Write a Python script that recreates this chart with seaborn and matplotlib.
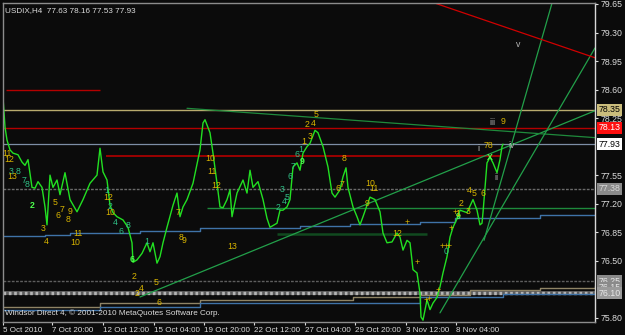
import matplotlib
matplotlib.use("Agg")
import matplotlib.pyplot as plt
import pandas as pd
import seaborn as sns

# ---------------- data ----------------
bars = [0, 1, 2, 3.5, 5, 7.5, 9.5, 11, 12.5, 14.5,
        16, 17.5, 19.5, 21, 22, 23.5, 25, 27, 28.5, 31,
        33.5, 37, 40, 43.5, 47, 48.5, 50, 52, 53.5, 55,
        57, 60, 62.5, 64.5, 65, 67, 69.5, 72, 73.5, 75,
        77, 78.5, 80, 82, 85, 87, 88.5, 90, 92, 95,
        98.5, 100, 101, 103.5, 105, 107, 108.5, 110, 112, 113.5,
        114.5, 117, 120, 122, 123.5, 125, 127.5, 130, 132, 133.5,
        137, 138.5, 140, 142, 143.5, 145, 147, 148.5, 150, 152,
        153.5, 156, 157.5, 160, 162.5, 164.5, 166, 168.5, 170, 171.5,
        172.5, 175, 177, 178.5, 180, 182, 183.5, 186, 188.5, 190,
        192, 194.5, 197, 198.5, 200, 202, 203.5, 205, 207, 208.5,
        209, 210, 212, 213.5, 215, 217, 218.5, 220, 222, 223.5,
        225, 227.5, 228.5, 232, 235, 237, 238.5, 239.5, 240, 242,
        243.5, 245, 247, 248.5, 249.5, 250]
prices = [78.51, 78.14, 77.98, 77.86, 77.82, 77.80, 77.71, 77.67, 77.74, 77.40,
          77.39, 77.47, 77.40, 77.16, 76.94, 77.55, 77.40, 77.49, 77.31, 77.58,
          77.25, 77.10, 77.25, 77.45, 77.55, 77.88, 77.59, 77.49, 77.18, 77.09,
          77.04, 77.00, 76.91, 76.72, 76.48, 76.51, 76.59, 76.72, 76.61, 76.72,
          76.47, 76.55, 76.72, 76.91, 77.18, 77.33, 77.04, 77.16, 77.25, 77.45,
          77.86, 78.19, 78.23, 78.07, 77.82, 77.45, 77.16, 77.15, 77.25, 77.37,
          77.04, 77.33, 77.49, 77.33, 77.61, 77.40, 77.47, 77.25, 77.02, 76.91,
          76.96, 77.12, 77.12, 77.16, 77.25, 77.65, 77.70, 77.61, 77.82, 77.90,
          77.94, 78.10, 78.07, 77.90, 77.65, 77.33, 77.28, 77.37, 77.53, 77.64,
          77.40, 77.16, 77.04, 76.94, 77.04, 77.18, 77.28, 77.25, 77.10, 76.84,
          76.72, 76.73, 76.84, 76.79, 76.63, 76.75, 76.72, 76.39, 76.35, 76.10,
          75.81, 75.77, 76.02, 75.90, 75.98, 76.05, 76.18, 76.35, 76.55, 76.79,
          76.91, 77.04, 77.12, 77.09, 77.25, 77.12, 76.94, 76.96, 77.09, 77.70,
          77.77, 77.70, 77.58, 77.74, 77.90, 77.93]

date_tick_bars = [0, 24.5, 50, 75.5, 100.5, 125.5, 151, 176, 201.5, 226.5]
date_tick_labels = ["5 Oct 2010", "7 Oct 20:00", "12 Oct 12:00", "15 Oct 04:00",
                    "19 Oct 20:00", "22 Oct 12:00", "27 Oct 04:00", "29 Oct 20:00",
                    "3 Nov 12:00", "8 Nov 04:00"]
price_ticks = [79.65, 79.30, 78.95, 78.60, 78.25, 77.55, 77.20, 76.85, 76.50, 75.80]

# full-width horizontal levels
khaki_level = 78.35
red_level = 78.13
bid_level = 77.93
gray_level = 77.38
gray_level2 = 76.25
band_level = 76.10

# partial horizontal segments (start bar, end bar, price)
red_seg_top = (1.5, 48.5, 78.59)
red_seg_mid = (51.5, 248.5, 77.785)
green_seg = (102, 296, 77.15)
dkgreen_seg = (137, 212, 76.83)

# stepped indicator lines
blue_bars = [0, 21, 33.5, 68.5, 98.5, 148.5, 173.5, 208.5, 226, 268.5, 296]
blue_prices = [76.80, 76.82, 76.84, 76.86, 76.90, 76.93, 76.95, 76.97, 77.02, 77.06, 77.06]
tan_bars = [0, 48.5, 98.5, 175, 208.5, 233.5, 268.5, 296]
tan_prices = [75.93, 75.98, 76.02, 76.05, 76.08, 76.14, 76.16, 76.19]
blue2_bars = [0, 48.5, 98.5, 208.5, 250, 296]
blue2_prices = [75.90, 75.93, 75.98, 76.05, 76.09, 76.12]

# trendlines (bar1, price1, bar2, price2)
trend_long = (68.5, 76.055, 296, 78.34)
trend_desc = (92, 78.37, 296, 78.01)
trend_steep_a = (240.5, 76.75, 274.5, 79.66)
trend_steep_b = (218.5, 75.86, 296, 79.11)
trend_red = (216, 79.66, 296, 78.99)

# wave labels (bar, price, text, kind)
wave_labels = [
    (2, 77.82, "11", "Y"), (3, 77.74, "12", "Y"), (4, 77.60, "3", "T"), (7.5, 77.60, "8", "T"),
    (4.5, 77.53, "13", "Y"), (10.5, 77.49, "7", "T"), (12, 77.43, "8", "T"), (14.5, 77.18, "2", "G"),
    (26, 77.22, "5", "Y"), (29.5, 77.13, "7", "Y"), (27.5, 77.06, "6", "Y"), (33.5, 77.10, "9", "Y"),
    (32.5, 77.01, "8", "Y"), (52.5, 77.27, "12", "Y"), (52, 77.36, "1", "T"), (53.5, 77.17, "2", "T"),
    (53.5, 77.09, "10", "Y"), (56, 76.97, "4", "T"), (59, 76.86, "6", "T"), (62.5, 76.93, "8", "T"),
    (20, 76.90, "3", "Y"), (21.5, 76.74, "4", "Y"), (37.5, 76.83, "11", "Y"), (36, 76.72, "10", "Y"),
    (72, 76.73, "1", "T"), (64.5, 76.52, "6", "G"), (65.5, 76.31, "2", "Y"), (69, 76.16, "4", "Y"),
    (67, 76.10, "2", "Y"), (76.5, 76.23, "5", "Y"), (78, 75.99, "6", "Y"), (87.5, 77.09, "7", "Y"),
    (89, 76.78, "8", "Y"), (90.5, 76.75, "9", "Y"), (103.5, 77.75, "10", "Y"), (104.5, 77.59, "11", "Y"),
    (106.5, 77.42, "12", "Y"), (114.5, 76.68, "13", "Y"), (156.5, 78.30, "5", "Y"), (152, 78.17, "2", "Y"),
    (155, 78.18, "4", "Y"), (150.5, 77.96, "1", "Y"), (153.5, 78.02, "3", "Y"), (149, 77.86, "1", "T"),
    (147, 77.80, "6", "T"), (149.5, 77.72, "9", "G"), (145, 77.65, "7", "T"), (143.5, 77.53, "6", "T"),
    (139.5, 77.37, "3", "T"), (142, 77.28, "5", "T"), (140.5, 77.23, "4", "T"), (137.5, 77.15, "2", "T"),
    (170.5, 77.75, "8", "Y"), (169.5, 77.44, "7", "Y"), (167.5, 77.39, "6", "Y"), (183.5, 77.45, "10", "Y"),
    (185.5, 77.39, "11", "Y"), (182, 77.20, "9", "Y"), (197, 76.83, "12", "Y"),
    (202, 76.97, "+", "Y"), (207, 76.48, "+", "Y"), (219.5, 76.68, "+", "Y"), (221.5, 76.67, "+", "Y"),
    (223, 76.67, "+", "Y"), (224, 76.89, "+", "Y"), (217.5, 76.14, "+", "Y"), (211.5, 76.01, "+", "Y"),
    (213, 76.03, "+", "Y"), (226, 77.09, "+", "Y"),
    (221.5, 76.61, "0", "T"), (227.5, 77.04, "9", "G"), (227.5, 77.08, "1", "Y"), (229, 77.20, "2", "Y"),
    (232.5, 77.10, "3", "Y"), (233, 77.36, "4", "Y"), (235.5, 77.33, "5", "Y"), (240, 77.33, "6", "Y"),
    (244.5, 78.20, "iii", "W"), (250, 78.21, "9", "Y"), (237.5, 77.88, "i", "W"), (242.5, 77.91, "78", "Y"),
    (243.5, 77.77, "X", "G"), (254.5, 77.91, "iv", "W"), (246.5, 77.52, "ii", "W"), (257.5, 79.15, "v", "W"),
]

# right-axis price boxes (price, text, face, textcolor)
price_boxes = [
    (78.35, "78.35", "#cbbd7c", "#000000"),
    (78.13, "78.13", "#ff1010", "#ffffff"),
    (77.93, "77.93", "#ffffff", "#000000"),
    (77.38, "77.38", "#8a8a8a", "#d8d8d8"),
    (76.25, "76.25", "#8a8a8a", "#e8e8e8"),
    (76.17, "76.15", "#8a8a8a", "#e8e8e8"),
    (76.10, "76.10", "#9a9a9a", "#e8e8e8"),
]

# ---------------- styling ----------------
sns.set_theme(style="dark")
plt.rcParams["font.family"] = ["Liberation Sans", "DejaVu Sans"]
BG = "#0b0b0b"
TXT = "#dcdcdc"
kind_colors = {"Y": "#d8b400", "T": "#2fbf86", "G": "#4dff4d", "W": "#b8b8b8"}

fig = plt.figure(figsize=(6.25, 3.35), dpi=100, facecolor=BG)
ax = fig.add_axes([3 / 625, 13 / 335, 592 / 625, 319 / 335])
ax.set_facecolor(BG)
ax.set_xlim(0, 296)
ax.set_ylim(75.748, 79.662)

# horizontal levels
ax.axhline(khaki_level, color="#b9ac6e", lw=1.0)
ax.axhline(red_level, color="#b40000", lw=1.0)
ax.axhline(bid_level, color="#7d8ea6", lw=0.9)
ax.axhline(gray_level, color="#6a6a6a", lw=1.0, ls=(0, (2, 1)))
ax.axhline(gray_level2, color="#5e5e5e", lw=1.0, ls=(0, (2, 1)))
ax.axhline(band_level, color="#5c5c5c", lw=2.8)
ax.axhline(band_level, color="#b4b4b4", lw=2.4, ls=(0, (0.8, 0.8)))

for (b1, b2, p), c, w in [(red_seg_top, "#b40000", 1.0), (red_seg_mid, "#b40000", 1.2),
                          (green_seg, "#1e8a3c", 1.0), (dkgreen_seg, "#114a1f", 1.8)]:
    ax.hlines(p, b1, b2, color=c, lw=w)

# stepped indicator lines
sns.lineplot(x=blue_bars, y=blue_prices, ax=ax, color="#3f73a8", lw=1.0,
             drawstyle="steps-post", estimator=None, sort=False)
sns.lineplot(x=tan_bars, y=tan_prices, ax=ax, color="#8f8466", lw=1.0,
             drawstyle="steps-post", estimator=None, sort=False)
sns.lineplot(x=blue2_bars, y=blue2_prices, ax=ax, color="#3f73a8", lw=1.0,
             drawstyle="steps-post", estimator=None, sort=False)

# trendlines
for (b1, p1, b2, p2), c in [(trend_long, "#22a04a"), (trend_desc, "#1f8a3c"),
                            (trend_steep_a, "#22a04a"), (trend_steep_b, "#22a04a"),
                            (trend_red, "#d00000")]:
    sns.lineplot(x=[b1, b2], y=[p1, p2], ax=ax, color=c, lw=0.9, estimator=None, sort=False)

# price line
df = pd.DataFrame({"bar": bars, "price": prices})
sns.lineplot(data=df, x="bar", y="price", ax=ax, color="#22e022", lw=1.0,
             estimator=None, sort=False)

# wave labels
for b, p, t, k in wave_labels:
    ax.text(b, p, t, color=kind_colors[k], fontsize=6.3, ha="center", va="center",
            fontweight="bold" if k == "G" else "normal", zorder=5)

# header / footer text
ax.text(0.004, 0.988, "USDIX,H4  77.63 78.16 77.53 77.93", transform=ax.transAxes,
        color=TXT, fontsize=5.9, ha="left", va="top")
ax.text(0.004, 0.027, "Windsor Direct 4, \u00a9 2001-2010 MetaQuotes Software Corp.",
        transform=ax.transAxes, color=TXT, fontsize=5.9, ha="left", va="center")

# axes / ticks
ax.set_xlabel("")
ax.set_ylabel("")
ax.yaxis.tick_right()
ax.set_yticks(price_ticks)
ax.set_yticklabels([f"{v:.2f}" for v in price_ticks])
ax.tick_params(axis="y", colors=TXT, labelsize=6.3, length=2.5, width=0.8, pad=1.5, right=True)
ax.set_xticks(date_tick_bars)
ax.set_xticklabels(date_tick_labels)
ax.tick_params(axis="x", colors=TXT, labelsize=5.8, length=2.5, width=0.8, pad=1.0, bottom=True)
for lbl in ax.get_xticklabels():
    lbl.set_ha("left")
ax.grid(False)

tr = ax.get_yaxis_transform()
for p, t, fc, tc in price_boxes:
    ax.text(1.006, p, t, transform=tr, color=tc, fontsize=6.3, ha="left", va="center",
            bbox=dict(boxstyle="square,pad=0.18", fc=fc, ec="none"), zorder=6, clip_on=False)

for side in ["top", "bottom", "left"]:
    ax.spines[side].set_color("#8c8c8c")
    ax.spines[side].set_linewidth(1.0)
    ax.spines[side].set_linestyle((0, (2, 1)))
ax.spines["right"].set_color("#d8d8d8")
ax.spines["right"].set_linewidth(1.0)

fig.savefig("out.png", dpi=100, facecolor=BG)
